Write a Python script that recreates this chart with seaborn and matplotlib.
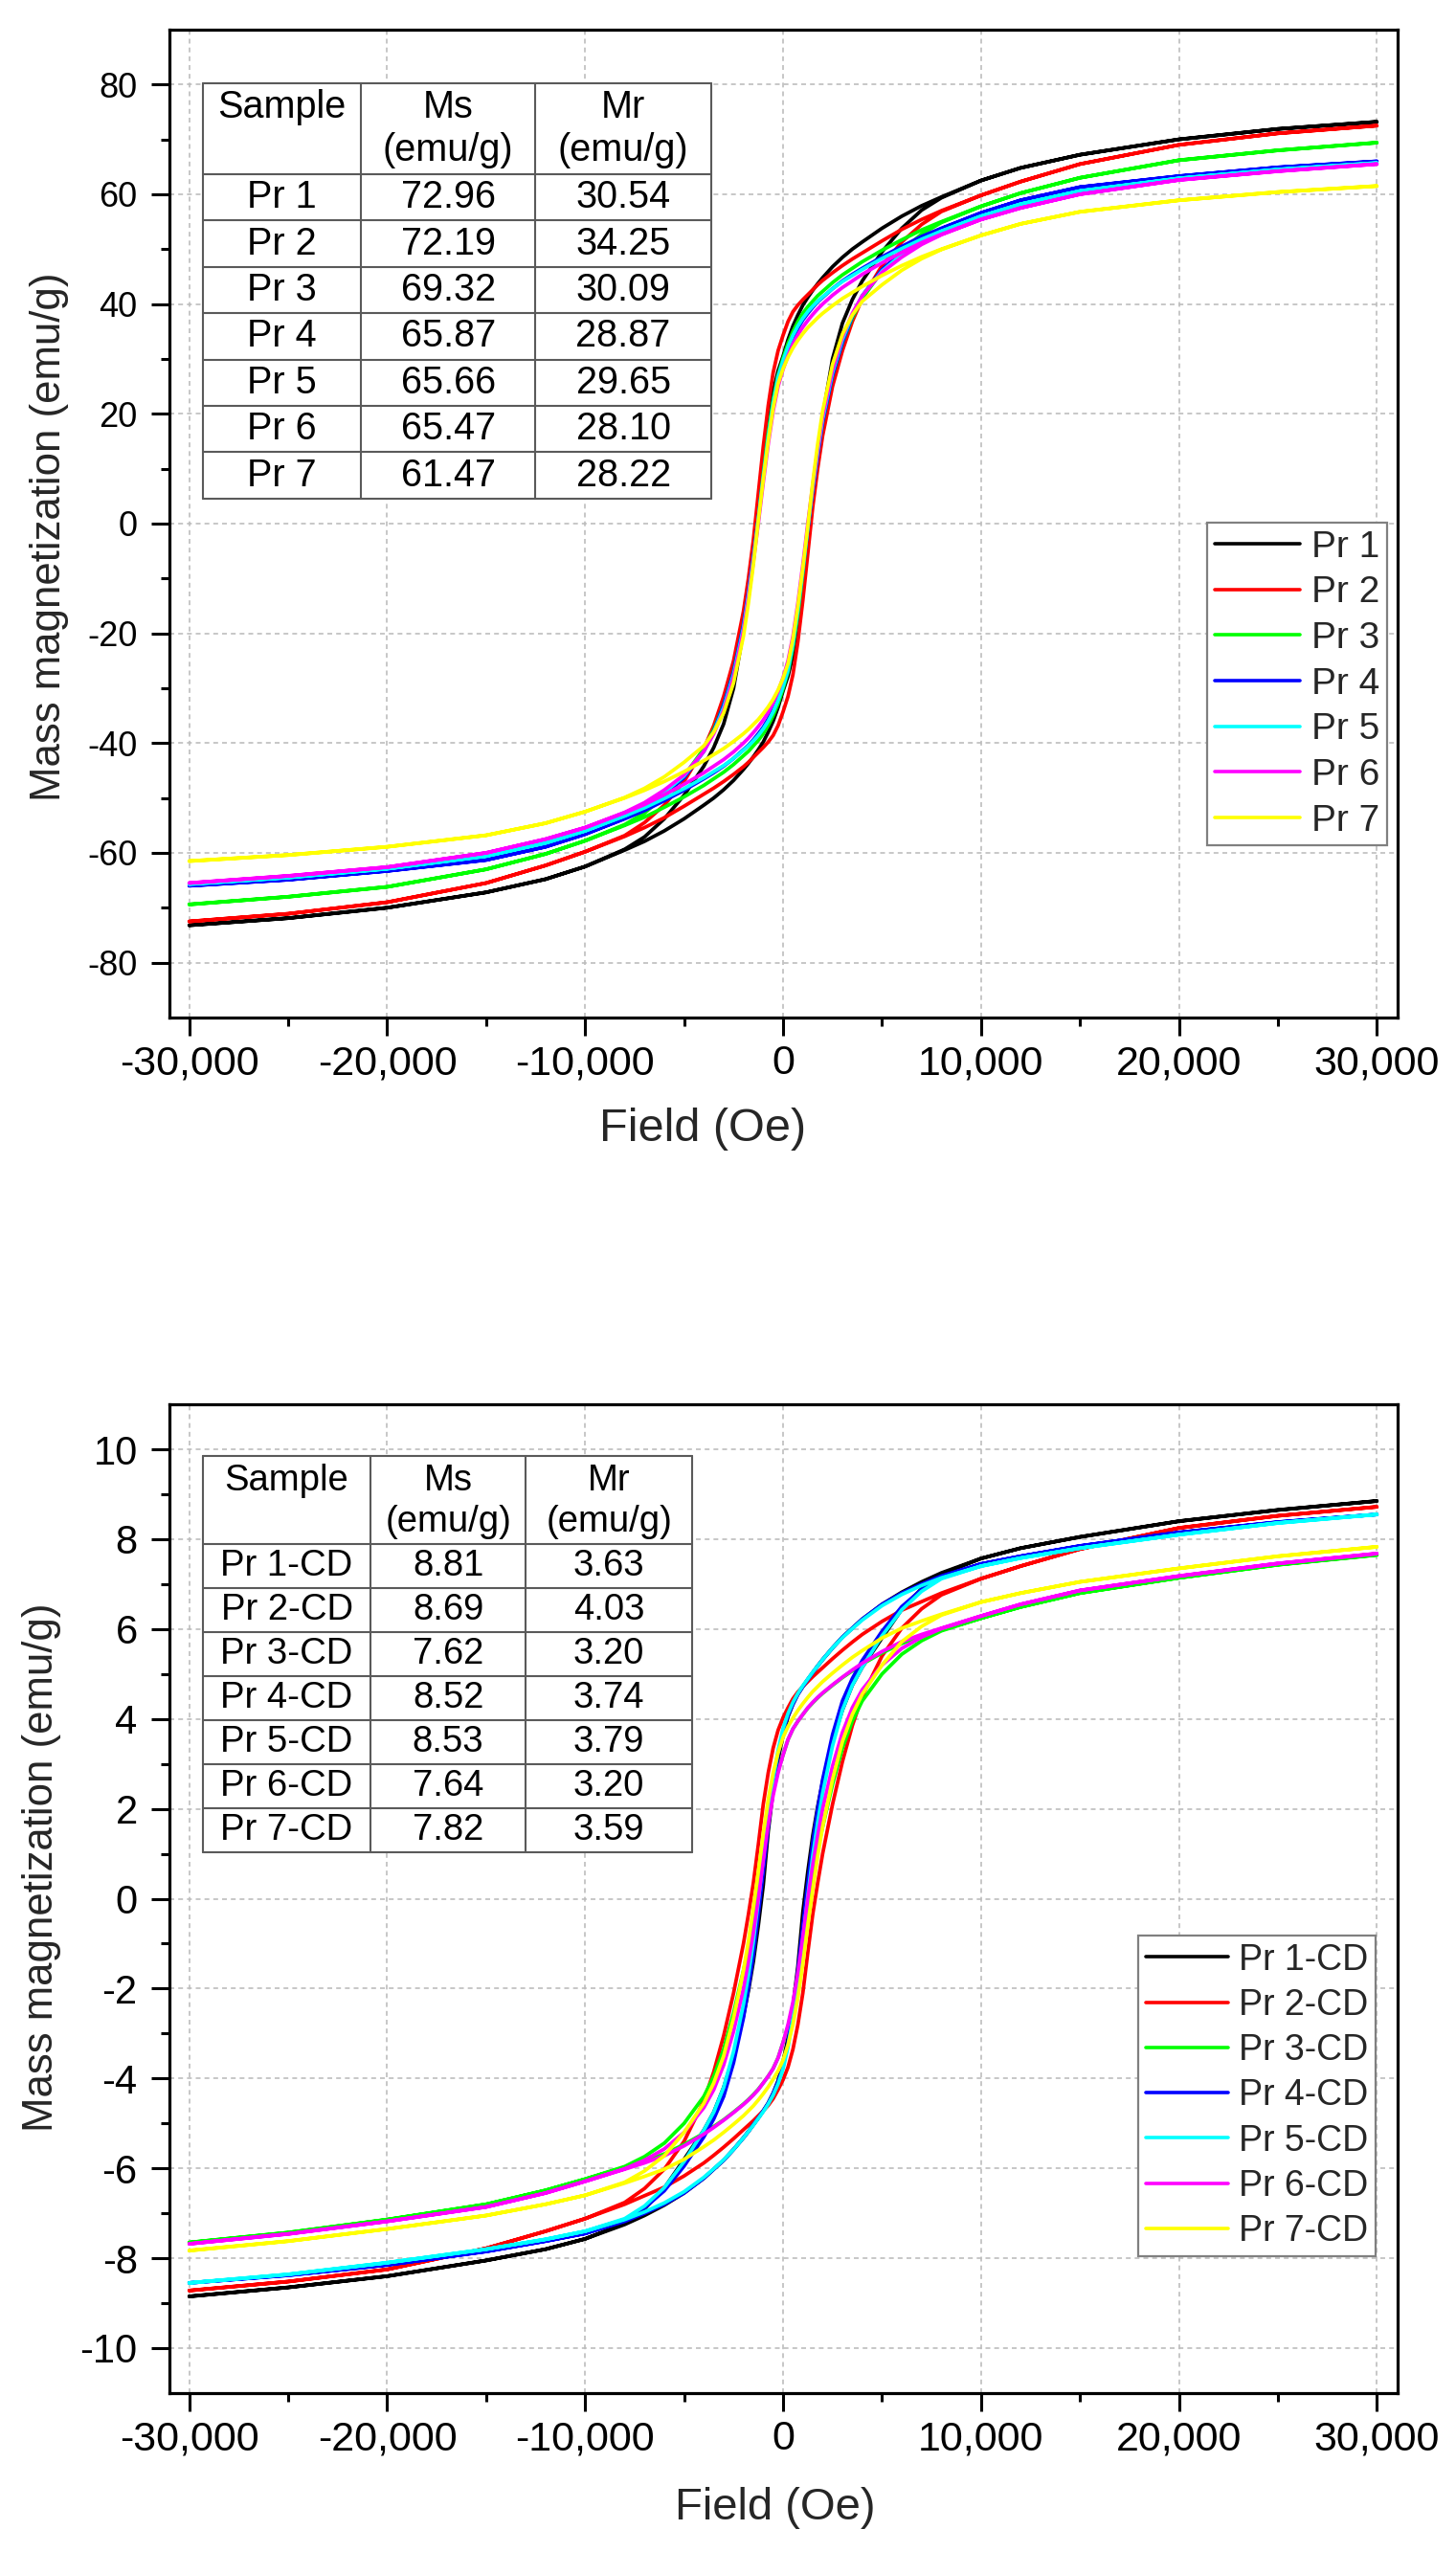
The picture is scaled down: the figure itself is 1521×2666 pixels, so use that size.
import numpy as np
import pandas as pd
import matplotlib
matplotlib.use("Agg")
import matplotlib.pyplot as plt
from matplotlib.ticker import FixedLocator, FuncFormatter
from matplotlib.lines import Line2D
from matplotlib.patches import Rectangle
import seaborn as sns

# ---------------- data ----------------
FIELD_DOWN = [30000, 25000, 20000, 15000, 12000, 10000, 8000, 7000, 6000, 5000, 4000, 3500, 3000, 2500, 2000,
              1750, 1500, 1250, 1000, 750, 500, 250, 0, -250, -500, -750, -1000, -1250, -1500, -1750,
              -2000, -2500, -3000, -3500, -4000, -5000, -6000, -7000, -8000, -10000, -12000, -15000, -20000,
              -25000, -30000]
FIELD_UP = [-30000, -25000, -20000, -15000, -12000, -10000, -8000, -7000, -6000, -5000, -4000, -3500, -3000, -2500,
            -2000, -1750, -1500, -1250, -1000, -750, -500, -250, 0, 250, 500, 750, 1000, 1250, 1500, 1750,
            2000, 2500, 3000, 3500, 4000, 5000, 6000, 7000, 8000, 10000, 12000, 15000, 20000, 25000, 30000]

# Panel 1 (Pr 1 .. Pr 7): descending-field branch and ascending-field branch
PR1_DOWN = [73.2, 71.9, 70.0, 67.2, 64.8, 62.5, 59.5, 57.9, 56.0, 53.8, 51.3, 50.0, 48.5, 46.8, 44.8, 43.7, 42.5, 41.2, 39.8, 38.0, 36.0, 33.5, 30.5, 27.8, 24.0, 18.0, 11.0, 3.0, -5.0, -12.5, -19.5, -30.0, -36.5, -40.8, -44.2, -49.5, -53.8, -57.1, -59.35, -62.5, -64.8, -67.2, -70.0, -71.9, -73.2]
PR1_UP = [-73.2, -71.9, -70.0, -67.2, -64.8, -62.5, -59.5, -57.9, -56.0, -53.8, -51.3, -50.0, -48.5, -46.8, -44.8, -43.7, -42.5, -41.2, -39.8, -38.0, -36.0, -33.5, -30.5, -27.8, -24.0, -18.0, -11.0, -3.0, 5.0, 12.5, 19.5, 30.0, 36.5, 40.8, 44.2, 49.5, 53.8, 57.1, 59.35, 62.5, 64.8, 67.2, 70.0, 71.9, 73.2]
PR2_DOWN = [72.5, 71.1, 69.0, 65.5, 62.3, 59.8, 57.0, 55.4, 53.6, 51.5, 49.3, 48.2, 47.0, 45.7, 44.3, 43.5, 42.6, 41.7, 40.8, 39.8, 38.6, 36.8, 34.3, 31.5, 27.5, 21.5, 14.0, 5.5, -3.0, -10.0, -16.0, -25.0, -31.5, -36.8, -41.0, -47.0, -51.3, -54.5, -56.85, -59.8, -62.3, -65.5, -69.0, -71.1, -72.5]
PR2_UP = [-72.5, -71.1, -69.0, -65.5, -62.3, -59.8, -57.0, -55.4, -53.6, -51.5, -49.3, -48.2, -47.0, -45.7, -44.3, -43.5, -42.6, -41.7, -40.8, -39.8, -38.6, -36.8, -34.3, -31.5, -27.5, -21.5, -14.0, -5.5, 3.0, 10.0, 16.0, 25.0, 31.5, 36.8, 41.0, 47.0, 51.3, 54.5, 56.85, 59.8, 62.3, 65.5, 69.0, 71.1, 72.5]
PR3_DOWN = [69.4, 68.0, 66.2, 63.0, 60.2, 57.8, 55.0, 53.5, 51.7, 49.8, 47.7, 46.5, 45.3, 43.9, 42.3, 41.5, 40.5, 39.5, 38.3, 36.8, 35.0, 32.8, 30.1, 27.0, 22.5, 16.5, 9.0, 0.8, -6.5, -13.0, -18.5, -27.0, -33.0, -37.5, -41.0, -46.0, -49.7, -52.75, -54.85, -57.8, -60.2, -63.0, -66.2, -68.0, -69.4]
PR3_UP = [-69.4, -68.0, -66.2, -63.0, -60.2, -57.8, -55.0, -53.5, -51.7, -49.8, -47.7, -46.5, -45.3, -43.9, -42.3, -41.5, -40.5, -39.5, -38.3, -36.8, -35.0, -32.8, -30.1, -27.0, -22.5, -16.5, -9.0, -0.8, 6.5, 13.0, 18.5, 27.0, 33.0, 37.5, 41.0, 46.0, 49.7, 52.75, 54.85, 57.8, 60.2, 63.0, 66.2, 68.0, 69.4]
PR4_DOWN = [66.0, 64.9, 63.3, 61.3, 58.9, 56.6, 53.8, 52.3, 50.5, 48.6, 46.5, 45.4, 44.2, 42.8, 41.2, 40.4, 39.4, 38.3, 37.1, 35.6, 33.8, 31.6, 28.9, 26.0, 21.5, 15.5, 8.5, 1.0, -6.0, -12.5, -18.5, -27.0, -33.0, -37.8, -41.5, -46.3, -49.4, -51.85, -53.7, -56.6, -58.9, -61.3, -63.3, -64.9, -66.0]
PR4_UP = [-66.0, -64.9, -63.3, -61.3, -58.9, -56.6, -53.8, -52.3, -50.5, -48.6, -46.5, -45.4, -44.2, -42.8, -41.2, -40.4, -39.4, -38.3, -37.1, -35.6, -33.8, -31.6, -28.9, -26.0, -21.5, -15.5, -8.5, -1.0, 6.0, 12.5, 18.5, 27.0, 33.0, 37.8, 41.5, 46.3, 49.4, 51.85, 53.7, 56.6, 58.9, 61.3, 63.3, 64.9, 66.0]
PR5_DOWN = [65.7, 64.5, 62.9, 60.6, 58.2, 56.0, 53.3, 51.8, 50.1, 48.3, 46.3, 45.2, 44.1, 42.8, 41.3, 40.5, 39.6, 38.6, 37.4, 36.0, 34.3, 32.2, 29.7, 26.8, 22.0, 15.8, 8.5, 0.8, -6.5, -13.0, -19.0, -27.5, -33.5, -38.0, -41.5, -46.0, -49.0, -51.35, -53.2, -56.0, -58.2, -60.6, -62.9, -64.5, -65.7]
PR5_UP = [-65.7, -64.5, -62.9, -60.6, -58.2, -56.0, -53.3, -51.8, -50.1, -48.3, -46.3, -45.2, -44.1, -42.8, -41.3, -40.5, -39.6, -38.6, -37.4, -36.0, -34.3, -32.2, -29.7, -26.8, -22.0, -15.8, -8.5, -0.8, 6.5, 13.0, 19.0, 27.5, 33.5, 38.0, 41.5, 46.0, 49.0, 51.35, 53.2, 56.0, 58.2, 60.6, 62.9, 64.5, 65.7]
PR6_DOWN = [65.5, 64.2, 62.6, 60.0, 57.5, 55.4, 52.7, 51.2, 49.4, 47.5, 45.4, 44.2, 43.0, 41.6, 40.0, 39.1, 38.1, 37.0, 35.8, 34.4, 32.7, 30.6, 28.1, 25.0, 20.5, 14.5, 7.5, 0.0, -7.0, -13.5, -19.5, -28.0, -34.0, -38.3, -41.5, -45.8, -48.55, -50.85, -52.62, -55.4, -57.5, -60.0, -62.6, -64.2, -65.5]
PR6_UP = [-65.5, -64.2, -62.6, -60.0, -57.5, -55.4, -52.7, -51.2, -49.4, -47.5, -45.4, -44.2, -43.0, -41.6, -40.0, -39.1, -38.1, -37.0, -35.8, -34.4, -32.7, -30.6, -28.1, -25.0, -20.5, -14.5, -7.5, 0.0, 7.0, 13.5, 19.5, 28.0, 34.0, 38.3, 41.5, 45.8, 48.55, 50.85, 52.62, 55.4, 57.5, 60.0, 62.6, 64.2, 65.5]
PR7_DOWN = [61.5, 60.4, 58.9, 56.8, 54.6, 52.5, 50.0, 48.6, 47.0, 45.2, 43.2, 42.1, 41.0, 39.7, 38.3, 37.5, 36.6, 35.7, 34.6, 33.4, 32.0, 30.3, 28.2, 25.5, 21.0, 15.0, 8.0, 0.5, -7.5, -14.5, -20.5, -29.0, -34.5, -38.0, -40.5, -43.5, -46.15, -48.25, -49.92, -52.5, -54.6, -56.8, -58.9, -60.4, -61.5]
PR7_UP = [-61.5, -60.4, -58.9, -56.8, -54.6, -52.5, -50.0, -48.6, -47.0, -45.2, -43.2, -42.1, -41.0, -39.7, -38.3, -37.5, -36.6, -35.7, -34.6, -33.4, -32.0, -30.3, -28.2, -25.5, -21.0, -15.0, -8.0, -0.5, 7.5, 14.5, 20.5, 29.0, 34.5, 38.0, 40.5, 43.5, 46.15, 48.25, 49.92, 52.5, 54.6, 56.8, 58.9, 60.4, 61.5]

# Panel 2 (Pr 1-CD .. Pr 7-CD)
CD1_DOWN = [8.85, 8.65, 8.40, 8.05, 7.80, 7.57, 7.25, 7.05, 6.82, 6.55, 6.22, 6.02, 5.82, 5.58, 5.32, 5.18, 5.03, 4.88, 4.72, 4.55, 4.33, 4.05, 3.63, 3.10, 2.40, 1.50, 0.30, -0.60, -1.40, -2.05, -2.60, -3.50, -4.20, -4.75, -5.15, -5.80, -6.44, -6.90, -7.22, -7.57, -7.80, -8.05, -8.40, -8.65, -8.85]
CD1_UP = [-8.85, -8.65, -8.40, -8.05, -7.80, -7.57, -7.25, -7.05, -6.82, -6.55, -6.22, -6.02, -5.82, -5.58, -5.32, -5.18, -5.03, -4.88, -4.72, -4.55, -4.33, -4.05, -3.63, -3.10, -2.40, -1.50, -0.30, 0.60, 1.40, 2.05, 2.60, 3.50, 4.20, 4.75, 5.15, 5.80, 6.44, 6.90, 7.22, 7.57, 7.80, 8.05, 8.40, 8.65, 8.85]
CD2_DOWN = [8.72, 8.52, 8.25, 7.78, 7.40, 7.12, 6.80, 6.61, 6.42, 6.17, 5.88, 5.71, 5.53, 5.34, 5.14, 5.04, 4.94, 4.83, 4.72, 4.60, 4.45, 4.25, 4.03, 3.75, 3.35, 2.80, 2.10, 1.20, 0.35, -0.35, -1.00, -2.10, -3.05, -3.85, -4.50, -5.40, -6.02, -6.45, -6.76, -7.12, -7.40, -7.78, -8.25, -8.52, -8.72]
CD2_UP = [-8.72, -8.52, -8.25, -7.78, -7.40, -7.12, -6.80, -6.61, -6.42, -6.17, -5.88, -5.71, -5.53, -5.34, -5.14, -5.04, -4.94, -4.83, -4.72, -4.60, -4.45, -4.25, -4.03, -3.75, -3.35, -2.80, -2.10, -1.20, -0.35, 0.35, 1.00, 2.10, 3.05, 3.85, 4.50, 5.40, 6.02, 6.45, 6.76, 7.12, 7.40, 7.78, 8.25, 8.52, 8.72]
CD3_DOWN = [7.65, 7.43, 7.14, 6.80, 6.49, 6.24, 5.98, 5.84, 5.68, 5.47, 5.22, 5.07, 4.92, 4.75, 4.57, 4.47, 4.36, 4.24, 4.10, 3.95, 3.78, 3.54, 3.20, 2.85, 2.40, 1.80, 1.05, 0.25, -0.50, -1.10, -1.60, -2.55, -3.35, -3.95, -4.40, -5.00, -5.44, -5.74, -5.96, -6.24, -6.49, -6.80, -7.14, -7.43, -7.65]
CD3_UP = [-7.65, -7.43, -7.14, -6.80, -6.49, -6.24, -5.98, -5.84, -5.68, -5.47, -5.22, -5.07, -4.92, -4.75, -4.57, -4.47, -4.36, -4.24, -4.10, -3.95, -3.78, -3.54, -3.20, -2.85, -2.40, -1.80, -1.05, -0.25, 0.50, 1.10, 1.60, 2.55, 3.35, 3.95, 4.40, 5.00, 5.44, 5.74, 5.96, 6.24, 6.49, 6.80, 7.14, 7.43, 7.65]
CD4_DOWN = [8.55, 8.38, 8.15, 7.85, 7.62, 7.45, 7.18, 7.00, 6.80, 6.55, 6.22, 6.02, 5.82, 5.58, 5.32, 5.18, 5.03, 4.88, 4.72, 4.55, 4.33, 4.07, 3.74, 3.20, 2.50, 1.60, 0.60, -0.35, -1.25, -2.00, -2.65, -3.65, -4.40, -4.90, -5.30, -5.95, -6.50, -6.88, -7.16, -7.45, -7.62, -7.85, -8.15, -8.38, -8.55]
CD4_UP = [-8.55, -8.38, -8.15, -7.85, -7.62, -7.45, -7.18, -7.00, -6.80, -6.55, -6.22, -6.02, -5.82, -5.58, -5.32, -5.18, -5.03, -4.88, -4.72, -4.55, -4.33, -4.07, -3.74, -3.20, -2.50, -1.60, -0.60, 0.35, 1.25, 2.00, 2.65, 3.65, 4.40, 4.90, 5.30, 5.95, 6.50, 6.88, 7.16, 7.45, 7.62, 7.85, 8.15, 8.38, 8.55]
CD5_DOWN = [8.55, 8.36, 8.10, 7.80, 7.58, 7.40, 7.14, 6.97, 6.77, 6.52, 6.20, 6.01, 5.81, 5.58, 5.32, 5.18, 5.04, 4.89, 4.74, 4.57, 4.37, 4.12, 3.79, 3.30, 2.65, 1.85, 0.90, -0.05, -0.95, -1.70, -2.35, -3.40, -4.20, -4.75, -5.15, -5.85, -6.43, -6.84, -7.12, -7.40, -7.58, -7.80, -8.10, -8.36, -8.55]
CD5_UP = [-8.55, -8.36, -8.10, -7.80, -7.58, -7.40, -7.14, -6.97, -6.77, -6.52, -6.20, -6.01, -5.81, -5.58, -5.32, -5.18, -5.04, -4.89, -4.74, -4.57, -4.37, -4.12, -3.79, -3.30, -2.65, -1.85, -0.90, 0.05, 0.95, 1.70, 2.35, 3.40, 4.20, 4.75, 5.15, 5.85, 6.43, 6.84, 7.12, 7.40, 7.58, 7.80, 8.10, 8.36, 8.55]
CD6_DOWN = [7.68, 7.46, 7.18, 6.86, 6.55, 6.29, 6.02, 5.88, 5.72, 5.50, 5.24, 5.09, 4.93, 4.76, 4.58, 4.48, 4.37, 4.25, 4.10, 3.95, 3.78, 3.54, 3.20, 2.80, 2.30, 1.65, 0.85, 0.00, -0.75, -1.40, -2.00, -2.95, -3.70, -4.25, -4.65, -5.20, -5.57, -5.82, -6.01, -6.29, -6.55, -6.86, -7.18, -7.46, -7.68]
CD6_UP = [-7.68, -7.46, -7.18, -6.86, -6.55, -6.29, -6.02, -5.88, -5.72, -5.50, -5.24, -5.09, -4.93, -4.76, -4.58, -4.48, -4.37, -4.25, -4.10, -3.95, -3.78, -3.54, -3.20, -2.80, -2.30, -1.65, -0.85, 0.00, 0.75, 1.40, 2.00, 2.95, 3.70, 4.25, 4.65, 5.20, 5.57, 5.82, 6.01, 6.29, 6.55, 6.86, 7.18, 7.46, 7.68]
CD7_DOWN = [7.83, 7.62, 7.35, 7.05, 6.80, 6.60, 6.33, 6.18, 6.02, 5.80, 5.52, 5.37, 5.20, 5.02, 4.83, 4.72, 4.61, 4.48, 4.34, 4.19, 4.02, 3.83, 3.59, 3.25, 2.80, 2.20, 1.45, 0.60, -0.20, -0.95, -1.60, -2.65, -3.50, -4.10, -4.55, -5.20, -5.72, -6.06, -6.31, -6.60, -6.80, -7.05, -7.35, -7.62, -7.83]
CD7_UP = [-7.83, -7.62, -7.35, -7.05, -6.80, -6.60, -6.33, -6.18, -6.02, -5.80, -5.52, -5.37, -5.20, -5.02, -4.83, -4.72, -4.61, -4.48, -4.34, -4.19, -4.02, -3.83, -3.59, -3.25, -2.80, -2.20, -1.45, -0.60, 0.20, 0.95, 1.60, 2.65, 3.50, 4.10, 4.55, 5.20, 5.72, 6.06, 6.31, 6.60, 6.80, 7.05, 7.35, 7.62, 7.83]

SAMPLES_1 = ["Pr 1", "Pr 2", "Pr 3", "Pr 4", "Pr 5", "Pr 6", "Pr 7"]
SAMPLES_2 = ["Pr 1-CD", "Pr 2-CD", "Pr 3-CD", "Pr 4-CD", "Pr 5-CD", "Pr 6-CD", "Pr 7-CD"]
MS_1 = [72.96, 72.19, 69.32, 65.87, 65.66, 65.47, 61.47]
MR_1 = [30.54, 34.25, 30.09, 28.87, 29.65, 28.10, 28.22]
MS_2 = [8.81, 8.69, 7.62, 8.52, 8.53, 7.64, 7.82]
MR_2 = [3.63, 4.03, 3.20, 3.74, 3.79, 3.20, 3.59]
COLORS = ["#000000", "#FF0000", "#00FF00", "#0000FF", "#00FFFF", "#FF00FF", "#FFFF00"]
X_TICKS = [-30000, -20000, -10000, 0, 10000, 20000, 30000]
X_MINOR = [-25000, -15000, -5000, 5000, 15000, 25000]

# ---------------- styling ----------------
sns.set_style("white")
plt.rcParams["font.family"] = ["Liberation Sans", "DejaVu Sans"]
plt.rcParams["axes.unicode_minus"] = False

fig = plt.figure(figsize=(15.21, 26.66), dpi=100)
ax1 = fig.add_axes([0.1164, 0.6013, 0.8435, 0.3871])
ax2 = fig.add_axes([0.1164, 0.0623, 0.8435, 0.3874])


def build_frame(names, downs, ups):
    rows = []
    for n, d, u in zip(names, downs, ups):
        for h, m in zip(FIELD_DOWN, d):
            rows.append((h, m, n))
        for h, m in zip(FIELD_UP, u):
            rows.append((h, m, n))
    return pd.DataFrame(rows, columns=["Field", "M", "Sample"])


def style_axes(ax, ylim, ymajor, yminor, yfs, xfs):
    ax.set_xlim(-31000, 31050)
    ax.set_ylim(*ylim)
    ax.xaxis.set_major_locator(FixedLocator(X_TICKS))
    ax.xaxis.set_minor_locator(FixedLocator(X_MINOR))
    ax.yaxis.set_major_locator(FixedLocator(ymajor))
    ax.yaxis.set_minor_locator(FixedLocator(yminor))
    ax.xaxis.set_major_formatter(FuncFormatter(lambda v, p: f"{int(round(v)):,}"))
    ax.yaxis.set_major_formatter(FuncFormatter(lambda v, p: f"{int(round(v))}"))
    ax.tick_params(which="major", direction="out", length=14, width=2.2,
                   bottom=True, left=True, top=False, right=False, color="black")
    ax.tick_params(which="minor", direction="out", length=6.5, width=2.2,
                   bottom=True, left=True, top=False, right=False, color="black")
    ax.tick_params(axis="x", which="major", labelsize=xfs, pad=6.5, labelcolor="black")
    ax.tick_params(axis="y", which="major", labelsize=yfs, pad=10, labelcolor="black")
    for sp in ax.spines.values():
        sp.set_visible(True)
        sp.set_linewidth(2.3)
        sp.set_color("black")
    ax.grid(True, which="major", color="#bdbdbd", linestyle=(0, (3, 2.5)), linewidth=1.2)
    ax.set_axisbelow(True)


def draw_table(ax, xs, y_top, y_head, y_bot, l1, l2, names, ms, mr, fs):
    x0, x1, x2, x3 = xs
    ax.add_patch(Rectangle((x0, y_bot), x3 - x0, y_top - y_bot, transform=ax.transAxes,
                           facecolor="white", edgecolor="none", zorder=3))
    n = len(names)
    rh = (y_head - y_bot) / n
    col = "#5a5a5a"
    lw = 1.5
    ys = [y_top, y_head] + [y_head - rh * (i + 1) for i in range(n)]
    for y in ys:
        ax.add_line(Line2D([x0, x3], [y, y], transform=ax.transAxes, color=col, lw=lw, zorder=4))
    for x in xs:
        ax.add_line(Line2D([x, x], [y_bot, y_top], transform=ax.transAxes, color=col, lw=lw, zorder=4))
    kw = dict(transform=ax.transAxes, ha="center", va="center", fontsize=fs, color="black", zorder=5)
    ax.text((x0 + x1) / 2, l1, "Sample", **kw)
    ax.text((x1 + x2) / 2, l1, "Ms", **kw)
    ax.text((x1 + x2) / 2, l2, "(emu/g)", **kw)
    ax.text((x2 + x3) / 2, l1, "Mr", **kw)
    ax.text((x2 + x3) / 2, l2, "(emu/g)", **kw)
    for i, (s, a, b) in enumerate(zip(names, ms, mr)):
        yc = y_head - rh * (i + 0.5)
        ax.text((x0 + x1) / 2, yc, s, **kw)
        ax.text((x1 + x2) / 2, yc, f"{a:.2f}", **kw)
        ax.text((x2 + x3) / 2, yc, f"{b:.2f}", **kw)


def add_legend(ax, names, anchor, fs):
    handles = [Line2D([], [], color=c, lw=2.6) for c in COLORS]
    leg = ax.legend(handles, names, loc="upper left", bbox_to_anchor=anchor, borderaxespad=0,
                    frameon=True, fancybox=False, framealpha=1, edgecolor="#808080",
                    fontsize=fs, handlelength=2.3, handletextpad=0.3, labelspacing=0.3,
                    borderpad=0.2)
    leg.get_frame().set_linewidth(1.6)
    leg.set_zorder(6)
    return leg


# ---------------- panel 1 ----------------
df1 = build_frame(SAMPLES_1,
                  [PR1_DOWN, PR2_DOWN, PR3_DOWN, PR4_DOWN, PR5_DOWN, PR6_DOWN, PR7_DOWN],
                  [PR1_UP, PR2_UP, PR3_UP, PR4_UP, PR5_UP, PR6_UP, PR7_UP])
sns.lineplot(data=df1, x="Field", y="M", hue="Sample", hue_order=SAMPLES_1,
             palette=dict(zip(SAMPLES_1, COLORS)), sort=False, estimator=None,
             linewidth=2.7, legend=False, ax=ax1)
style_axes(ax1, (-90, 90), [-80, -60, -40, -20, 0, 20, 40, 60, 80],
           [-70, -50, -30, -10, 10, 30, 50, 70], 26, 31)
ax1.set_xlabel("Field (Oe)", fontsize=35)
ax1.xaxis.set_label_coords(0.434, -0.113)
ax1.xaxis.label.set_va("center")
ax1.set_ylabel("Mass magnetization (emu/g)", fontsize=31.5)
ax1.yaxis.set_label_coords(-0.098, 0.487)
ax1.yaxis.label.set_va("center")
draw_table(ax1, [0.0273, 0.156, 0.298, 0.441], 0.9457, 0.8537, 0.5252, 0.9215, 0.878,
           SAMPLES_1, MS_1, MR_1, 28.5)
add_legend(ax1, SAMPLES_1, (0.845, 0.501), 28)

# ---------------- panel 2 ----------------
df2 = build_frame(SAMPLES_2,
                  [CD1_DOWN, CD2_DOWN, CD3_DOWN, CD4_DOWN, CD5_DOWN, CD6_DOWN, CD7_DOWN],
                  [CD1_UP, CD2_UP, CD3_UP, CD4_UP, CD5_UP, CD6_UP, CD7_UP])
sns.lineplot(data=df2, x="Field", y="M", hue="Sample", hue_order=SAMPLES_2,
             palette=dict(zip(SAMPLES_2, COLORS)), sort=False, estimator=None,
             linewidth=2.7, legend=False, ax=ax2)
style_axes(ax2, (-11, 11), [-10, -8, -6, -4, -2, 0, 2, 4, 6, 8, 10],
           [-9, -7, -5, -3, -1, 1, 3, 5, 7, 9], 30, 31)
ax2.set_xlabel("Field (Oe)", fontsize=34)
ax2.xaxis.set_label_coords(0.493, -0.116)
ax2.xaxis.label.set_va("center")
ax2.set_ylabel("Mass magnetization (emu/g)", fontsize=31.5)
ax2.yaxis.set_label_coords(-0.104, 0.532)
ax2.yaxis.label.set_va("center")
draw_table(ax2, [0.0273, 0.1637, 0.290, 0.4256], 0.9477, 0.8587, 0.547, 0.9226, 0.881,
           SAMPLES_2, MS_2, MR_2, 27.5)
add_legend(ax2, SAMPLES_2, (0.789, 0.4627), 27)

fig.savefig("out.png", dpi=100, facecolor="white")
